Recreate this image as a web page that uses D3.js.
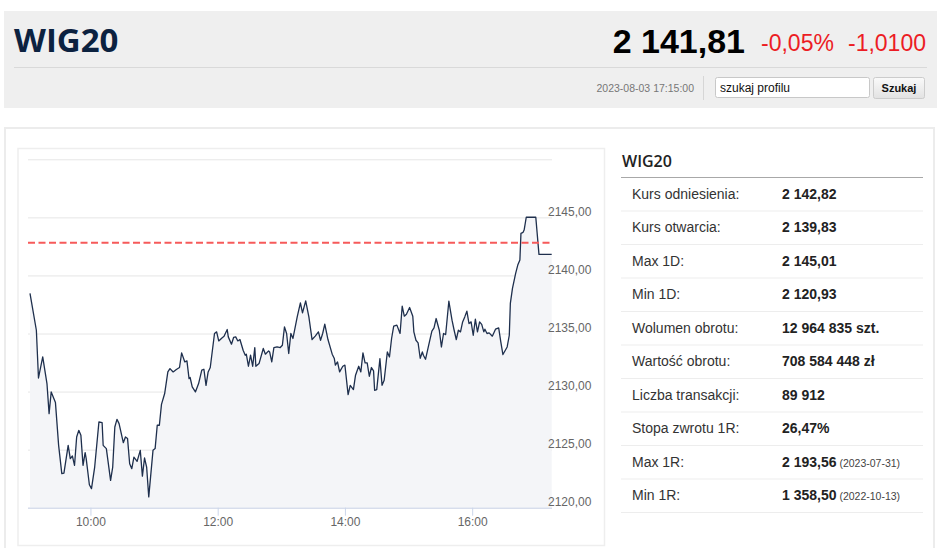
<!DOCTYPE html>
<html><head><meta charset="utf-8">
<script src="https://cdn.jsdelivr.net/npm/d3@7"></script>
<style>
html,body{margin:0;padding:0;background:#fff;}
svg{display:block;}
</style></head>
<body>
<svg id="c" width="948" height="548"></svg>
<script>
// ---------- data ----------
const times = [
"09:03","09:09","09:11","09:15","09:19","09:21","09:23","09:27","09:30","09:33",
"09:35","09:39","09:41","09:43","09:45","09:47","09:49","09:51","09:53","09:55",
"09:56","09:59","10:01","10:04","10:08","10:11","10:12","10:15","10:19","10:21",
"10:23","10:25","10:27","10:31","10:33","10:35","10:37","10:39","10:41","10:44",
"10:47","10:49","10:51","10:53","10:55","10:59","11:01","11:03","11:05","11:07",
"11:10","11:13","11:15","11:18","11:21","11:24","11:26","11:29","11:31","11:33",
"11:34","11:36","11:39","11:42","11:45","11:47","11:49","11:51","11:53","11:57",
"11:59","12:01","12:04","12:06","12:09","12:10","12:13","12:15","12:17","12:19",
"12:21","12:24","12:26","12:27","12:29","12:31","12:33","12:35","12:36","12:39",
"12:43","12:45","12:48","12:49","12:51","12:53","12:56","12:59","13:01","13:03",
"13:05","13:07","13:09","13:11","13:15","13:18","13:20","13:23","13:26","13:29",
"13:32","13:35","13:37","13:39","13:41","13:44","13:48","13:50","13:51","13:53",
"13:55","13:58","14:00","14:03","14:05","14:08","14:10","14:13","14:15","14:17",
"14:19","14:21","14:23","14:25","14:27","14:28","14:30","14:33","14:35","14:37",
"14:40","14:42","14:44","14:46","14:49","14:52","14:54","14:56","14:58","15:01",
"15:04","15:05","15:07","15:09","15:11","15:13","15:14","15:16","15:19","15:22",
"15:24","15:26","15:29","15:31","15:33","15:35","15:38","15:41","15:43","15:45",
"15:47","15:49","15:51","15:53","15:55","15:57","15:59","16:01","16:03","16:05",
"16:07","16:09","16:11","16:12","16:14","16:16","16:19","16:22","16:25","16:27",
"16:29","16:33","16:35","16:36","16:38","16:41","16:43","16:45","16:46","16:48",
"16:49","16:51","17:00","17:03","17:15"
];
const values = [
2138.45,2135.28,2131.17,2132.98,2130.69,2128.10,2129.97,2129.05,2125.37,2122.93,
2122.98,2125.37,2124.22,2124.45,2123.65,2126.09,2126.66,2126.23,2123.65,2124.74,
2124.22,2121.98,2121.64,2123.50,2127.38,2127.33,2125.37,2125.09,2122.35,2123.50,
2126.95,2127.61,2127.24,2125.60,2126.09,2125.95,2123.79,2123.36,2124.36,2123.99,
2124.94,2122.72,2124.28,2123.50,2120.93,2124.94,2125.09,2127.10,2127.10,2128.90,
2129.83,2131.69,2131.98,2131.69,2131.90,2132.07,2133.33,2132.55,2132.64,2131.12,
2131.21,2130.40,2129.97,2130.69,2131.84,2131.92,2130.54,2131.69,2132.07,2135.00,
2135.14,2134.36,2134.62,2134.77,2135.34,2134.71,2134.08,2134.66,2134.71,2134.36,
2134.48,2133.56,2133.13,2133.22,2132.18,2133.13,2132.18,2133.79,2132.18,2132.41,
2133.71,2133.22,2133.50,2133.41,2132.55,2133.79,2133.84,2133.79,2133.99,2135.57,
2135.00,2133.28,2135.00,2134.57,2136.43,2137.64,2136.78,2137.81,2136.43,2134.48,
2134.77,2135.14,2134.42,2135.00,2135.80,2134.48,2133.22,2132.84,2132.27,2132.55,
2131.69,2132.18,2132.27,2129.74,2130.54,2130.17,2131.41,2132.18,2131.69,2133.33,
2132.47,2132.47,2131.32,2132.07,2131.78,2130.11,2130.17,2132.84,2130.54,2130.97,
2133.41,2132.98,2134.57,2135.63,2135.72,2135.00,2137.35,2136.49,2136.66,2137.24,
2136.49,2135.14,2134.42,2134.20,2132.87,2133.41,2133.13,2132.78,2133.99,2135.20,
2135.48,2136.29,2135.28,2133.84,2135.00,2134.91,2137.78,2136.15,2135.28,2134.48,
2135.28,2135.14,2136.00,2136.43,2136.92,2135.86,2136.00,2134.85,2136.23,2135.14,
2136.00,2135.78,2135.14,2135.37,2135.00,2135.05,2134.77,2135.37,2135.48,2134.28,
2133.19,2133.84,2134.85,2137.59,2138.88,2140.17,2140.89,2141.32,2143.62,2143.71,
2143.91,2145.01,2145.01,2141.81,2141.81
];
const referenceLevel = 2142.82;
const yTicks = [2120, 2125, 2130, 2135, 2140, 2145, 2150];
const yLabelTicks = [2120, 2125, 2130, 2135, 2140, 2145];
const xTicks = ["10:00", "12:00", "14:00", "16:00"];

const indexName = "WIG20";
const lastPrice = "2 141,81";
const changePct = "-0,05%";
const changeAbs = "-1,0100";
const timestamp = "2023-08-03 17:15:00";
const searchPlaceholder = "szukaj profilu";
const searchButton = "Szukaj";

const statLabels = ["Kurs odniesienia:", "Kurs otwarcia:", "Max 1D:", "Min 1D:", "Wolumen obrotu:",
  "Wartość obrotu:", "Liczba transakcji:", "Stopa zwrotu 1R:", "Max 1R:", "Min 1R:"];
const statValues = ["2 142,82", "2 139,83", "2 145,01", "2 120,93", "12 964 835 szt.",
  "708 584 448 zł", "89 912", "26,47%", "2 193,56", "1 358,50"];
const statNotes = ["", "", "", "", "", "", "", "", "(2023-07-31)", "(2022-10-13)"];

// ---------- drawing ----------
const svg = d3.select("#c");
const SANS = "Arial, 'Liberation Sans', sans-serif";

// header box
svg.append("rect").attr("x", 4).attr("y", 11).attr("width", 933).attr("height", 97).attr("fill", "#efefef");
svg.append("line").attr("x1", 14).attr("x2", 927).attr("y1", 67.5).attr("y2", 67.5).attr("stroke", "#d9d9d9");
svg.append("text").attr("x", 14).attr("y", 52).text(indexName)
  .attr("font-family", "'Open Sans', sans-serif").attr("font-weight", 700).attr("font-size", 33).attr("fill", "#0c2240");
svg.append("text").attr("x", 745).attr("y", 53).attr("text-anchor", "end").text(lastPrice)
  .attr("font-family", SANS).attr("font-weight", 700).attr("font-size", 34).attr("fill", "#000");
svg.append("text").attr("x", 761).attr("y", 51).text(changePct)
  .attr("font-family", SANS).attr("font-size", 23).attr("fill", "#ec1c24");
svg.append("text").attr("x", 926).attr("y", 51).attr("text-anchor", "end").text(changeAbs)
  .attr("font-family", SANS).attr("font-size", 23).attr("fill", "#ec1c24");
svg.append("text").attr("x", 694).attr("y", 92).attr("text-anchor", "end").text(timestamp)
  .attr("font-family", SANS).attr("font-size", 10.5).attr("fill", "#777");
svg.append("line").attr("x1", 703.5).attr("x2", 703.5).attr("y1", 76).attr("y2", 100).attr("stroke", "#d6d6d6");
svg.append("rect").attr("x", 715.5).attr("y", 77.5).attr("width", 154).attr("height", 20).attr("rx", 2)
  .attr("fill", "#fff").attr("stroke", "#c8c8c8");
svg.append("text").attr("x", 720).attr("y", 92).text(searchPlaceholder)
  .attr("font-family", SANS).attr("font-size", 12).attr("fill", "#111");
const grad = svg.append("defs").append("linearGradient").attr("id", "btn").attr("x1", 0).attr("x2", 0).attr("y1", 0).attr("y2", 1);
grad.append("stop").attr("offset", "0%").attr("stop-color", "#fafafa");
grad.append("stop").attr("offset", "100%").attr("stop-color", "#e2e2e2");
svg.append("rect").attr("x", 873.5).attr("y", 77.5).attr("width", 51).attr("height", 21).attr("rx", 2)
  .attr("fill", "url(#btn)").attr("stroke", "#cccccc");
svg.append("text").attr("x", 899).attr("y", 92).attr("text-anchor", "middle").text(searchButton)
  .attr("font-family", SANS).attr("font-weight", 700).attr("font-size", 11).attr("fill", "#111");

// main boxes
svg.append("rect").attr("x", 5).attr("y", 128).attr("width", 929).attr("height", 440)
  .attr("fill", "none").attr("stroke", "#ececec").attr("stroke-width", 2);
svg.append("rect").attr("x", 18).attr("y", 148.5).attr("width", 586.5).attr("height", 397)
  .attr("fill", "none").attr("stroke", "#eeeeee").attr("stroke-width", 1.5);

// chart
const parseT = d3.timeParse("%H:%M");
const data = times.map((t, i) => ({ t: parseT(t), v: values[i] }));
const x = d3.scaleTime().domain(d3.extent(data, d => d.t)).range([30, 551.7]);
const y = d3.scaleLinear().domain([2120, 2150]).range([507.7, 159.3]);
const plotL = 28, plotR = 552;
const loc = d3.formatLocale({ decimal: ",", thousands: " ", grouping: [3], currency: ["", ""] });
const fmt = loc.format(".2f");

// gridlines
const grid = svg.append("g").attr("transform", `translate(${plotL},0)`)
  .call(d3.axisRight(y).tickValues(yTicks).tickSize(plotR - plotL).tickFormat(""));
grid.select(".domain").remove();
grid.selectAll("line").attr("stroke", "#e6e6e6").attr("stroke-width", 1);

// area + line
svg.append("path").datum(data)
  .attr("d", d3.area().x(d => x(d.t)).y0(y(2120)).y1(d => y(d.v)))
  .attr("fill", "#f4f5f8");
svg.append("path").datum(data)
  .attr("d", d3.line().x(d => x(d.t)).y(d => y(d.v)))
  .attr("fill", "none").attr("stroke", "#1e2f4d").attr("stroke-width", 1.3).attr("stroke-linejoin", "round");

// reference dashed line
svg.append("line").attr("x1", plotL).attr("x2", plotR).attr("y1", y(referenceLevel)).attr("y2", y(referenceLevel))
  .attr("stroke", "#f65a5a").attr("stroke-width", 2).attr("stroke-dasharray", "7,3.5");

// y labels
const yl = svg.append("g").attr("transform", `translate(548,0)`)
  .call(d3.axisRight(y).tickValues(yLabelTicks).tickSize(0).tickPadding(0).tickFormat(fmt));
yl.select(".domain").remove();
yl.selectAll("text").attr("dy", null).attr("y", -2).attr("font-family", SANS).attr("font-size", 12).attr("fill", "#666");

// x axis
const xa = svg.append("g").attr("transform", `translate(0,${y(2120)})`)
  .call(d3.axisBottom(x).tickValues(xTicks.map(parseT)).tickSize(8).tickFormat(d3.timeFormat("%H:%M")));
xa.select(".domain").attr("d", `M${plotL},0.5H${plotR}`).attr("stroke", "#ccd6eb");
xa.selectAll(".tick line").attr("stroke", "#ccd6eb");
xa.selectAll("text").attr("dy", null).attr("y", 18.5).attr("font-family", SANS).attr("font-size", 12).attr("fill", "#666");

// stats table
svg.append("text").attr("x", 622).attr("y", 167).text(indexName)
  .attr("font-family", "'Open Sans', sans-serif").attr("font-weight", 600).attr("font-size", 16).attr("fill", "#222");
svg.append("line").attr("x1", 621).attr("x2", 923).attr("y1", 177.5).attr("y2", 177.5).attr("stroke", "#a8a8a8");
const rowTop = 177.5, rowH = 33.5;
const rows = svg.append("g").selectAll("g").data(statLabels).join("g")
  .attr("transform", (d, i) => `translate(0,${rowTop + i * rowH})`);
rows.append("line").attr("x1", 621).attr("x2", 923).attr("y1", rowH).attr("y2", rowH).attr("stroke", "#ededed");
rows.append("text").attr("x", 632).attr("y", 21).text(d => d)
  .attr("font-family", SANS).attr("font-size", 14).attr("fill", "#333");
rows.append("text").attr("x", 782).attr("y", 21)
  .attr("font-family", SANS).attr("font-size", 14).attr("fill", "#222")
  .each(function (d, i) {
    const t = d3.select(this);
    t.append("tspan").attr("font-weight", 700).text(statValues[i]);
    if (statNotes[i]) t.append("tspan").attr("font-size", 10.5).attr("fill", "#444").text(" " + statNotes[i]);
  });
</script>
</body></html>
